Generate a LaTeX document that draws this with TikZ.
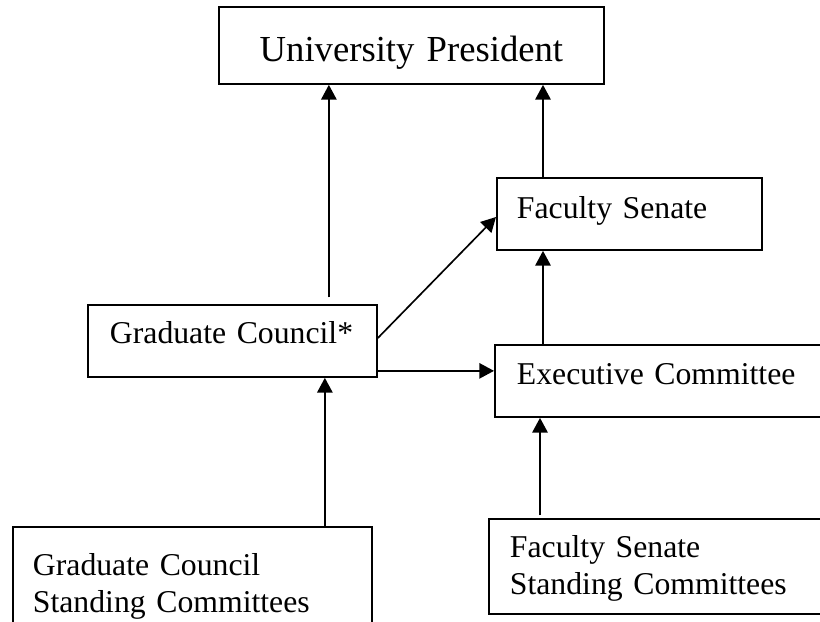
\documentclass[tikz,border=0pt]{standalone}
\usepackage{fontspec}
\setmainfont{Liberation Serif}
\usetikzlibrary{arrows.meta}

\tikzset{
  box/.style={draw, line width=1.4pt, anchor=north west, inner ysep=0pt,
    align=left, font=\fontsize{23.8pt}{27.5pt}\selectfont},
  arr/.style={line width=1.25pt, -{Triangle[length=11pt,width=11.5pt]}}
}

\begin{document}
\begin{tikzpicture}[x=0.75pt,y=-0.75pt]
        % page frame
        \clip (0,0) rectangle (820,621);

        % the boxes
        \node[box, align=center, inner xsep=0pt, text width=288.75pt,
              text height=41.25pt, text depth=16.5pt,
              font=\fontsize{27.5pt}{33pt}\selectfont]
              (pres) at (218,6) {University President};

        \node[box, inner xsep=15pt, text width=168.75pt,
              text height=30.75pt, text depth=23.25pt]
              (senate) at (496,177) {Faculty Senate};

        \node[box, inner xsep=16.5pt, text width=183.75pt,
              text height=29.25pt, text depth=24.75pt]
              (council) at (87,304) {Graduate Council*};

        \node[box, inner xsep=16.5pt, text width=226.5pt,
              text height=30pt, text depth=24pt]
              (exec) at (494,344) {Executive Committee};

        \node[box, inner xsep=15pt, text width=239.25pt,
              text height=36.75pt, text depth=48.75pt]
              (gcsc) at (12,526) {Graduate Council\\Standing Committees};

        \node[box, inner xsep=15.75pt, text width=232.5pt,
              text height=29.25pt, text depth=42pt]
              (fssc) at (488,518) {Faculty Senate\\Standing Committees};

        % arrows up to the president
        \draw[arr] ([xshift=-36.75pt,yshift=5pt]council.north east)
                -- ([xshift=-36.75pt]council.north east |- pres.south);
        \draw[arr] ([xshift=35.25pt]senate.north west)
                -- ([xshift=35.25pt]senate.north west |- pres.south);

        % arrows out of the graduate council
        \draw[arr] ([yshift=-25.5pt]council.north east)
                -- ([yshift=-30pt]senate.north west);
        \draw[arr] ([yshift=5.25pt]council.south east)
                -- ([yshift=5.25pt]council.south east -| exec.west);

        % executive committee to senate
        \draw[arr] ([xshift=36.75pt]exec.north west)
                -- ([xshift=36.75pt]exec.north west |- senate.south);

        % standing committees
        \draw[arr] ([xshift=-39.75pt]council.south east |- gcsc.north)
                -- ([xshift=-39.75pt]council.south east);
        \draw[arr] ([xshift=34.5pt,yshift=2pt]exec.south west |- fssc.north)
                -- ([xshift=34.5pt]exec.south west);

    \end{tikzpicture}
\end{document}
